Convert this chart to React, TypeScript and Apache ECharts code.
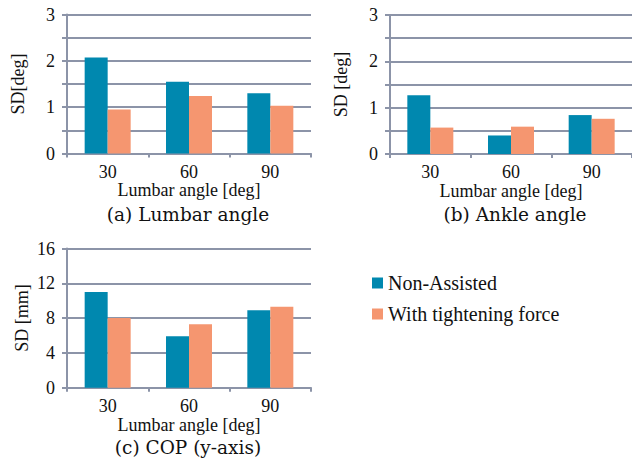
import React, { useEffect, useRef } from "react";
import * as echarts from "echarts";

const categories = ["30", "60", "90"];
const seriesNames = ["Non-Assisted", "With tightening force"];
const lumbarNonAssisted = [2.07, 1.55, 1.3];
const lumbarTightening = [0.95, 1.24, 1.03];
const ankleNonAssisted = [1.27, 0.4, 0.84];
const ankleTightening = [0.57, 0.59, 0.76];
const copNonAssisted = [11.0, 5.9, 8.9];
const copTightening = [8.0, 7.3, 9.3];
const captions = ["(a) Lumbar angle", "(b) Ankle angle", "(c) COP (y-axis)"];
const yNames = ["SD[deg]", "SD [deg]", "SD [mm]"];
const xName = "Lumbar angle [deg]";

const BLUE = "#0088AF";
const ORANGE = "#F59670";
const AXIS = "#8C94A8";
const SERIF = "Liberation Serif";
const CAPTION_FONT = "DejaVu Serif";

export default function App() {
  const ref = useRef<HTMLDivElement>(null);
  useEffect(() => {
    if (!ref.current) return;
    const chart = echarts.init(ref.current, null, { renderer: "svg" });
    const grids = [
      { left: 67, top: 14.5, width: 244, height: 139 },
      { left: 390, top: 15, width: 243, height: 139 },
      { left: 67, top: 248.5, width: 244, height: 139.2 },
    ];
    const yCfg = [
      { max: 3, interval: 0.5, gap: 40 },
      { max: 3, interval: 0.5, gap: 40 },
      { max: 16, interval: 4, gap: 36 },
    ];
    const xAxes = grids.map((_, i) => ({
      type: "category",
      gridIndex: i,
      data: categories,
      name: xName,
      nameLocation: "middle",
      nameGap: 27,
      nameTextStyle: { fontFamily: SERIF, fontSize: 18, color: "#111" },
      axisLine: { lineStyle: { color: AXIS, width: 2 } },
      axisTick: { show: true, length: 4, lineStyle: { color: AXIS, width: 2 } },
      axisLabel: { fontFamily: SERIF, fontSize: 18, color: "#111", margin: 9 },
    }));
    const yAxes = grids.map((_, i) => ({
      type: "value",
      gridIndex: i,
      min: 0,
      max: yCfg[i].max,
      interval: yCfg[i].interval,
      name: yNames[i],
      nameLocation: "middle",
      nameGap: yCfg[i].gap,
      nameTextStyle: { fontFamily: SERIF, fontSize: 18, color: "#111" },
      axisLine: { show: true, lineStyle: { color: AXIS, width: 2 } },
      axisTick: { show: true, length: 5, lineStyle: { color: AXIS, width: 2 } },
      splitLine: { show: true, lineStyle: { color: AXIS, width: 2 } },
      axisLabel: {
        fontFamily: SERIF,
        fontSize: 18,
        color: "#111",
        margin: 12,
        formatter: (v: number) => (Number.isInteger(v) ? String(v) : ""),
      },
    }));
    const data = [
      [lumbarNonAssisted, lumbarTightening],
      [ankleNonAssisted, ankleTightening],
      [copNonAssisted, copTightening],
    ];
    const series: any[] = [];
    data.forEach((pair, i) => {
      pair.forEach((vals, j) => {
        series.push({
          type: "bar",
          name: seriesNames[j],
          xAxisIndex: i,
          yAxisIndex: i,
          data: vals,
          barWidth: 23,
          barGap: "0%",
          itemStyle: { color: j === 0 ? BLUE : ORANGE },
        });
      });
    });
    const capPos = [
      [188, 214],
      [515, 214],
      [188, 447],
    ];
    chart.setOption({
      animation: false,
      backgroundColor: "#fff",
      grid: grids,
      xAxis: xAxes,
      yAxis: yAxes,
      series,
      legend: {
        data: seriesNames,
        orient: "vertical",
        left: 372,
        top: 273,
        padding: 0,
        itemWidth: 11,
        itemHeight: 11,
        itemGap: 11,
        icon: "rect",
        textStyle: { fontFamily: SERIF, fontSize: 20, color: "#111", lineHeight: 20 },
      },
      graphic: captions.map((c, i) => ({
        type: "text",
        x: capPos[i][0],
        y: capPos[i][1],
        style: {
          text: c,
          fontFamily: CAPTION_FONT,
          fontSize: 18.5,
          fill: "#111",
          textAlign: "center",
          textVerticalAlign: "middle",
        },
      })),
    });
    return () => chart.dispose();
  }, []);
  return (
    <div
      ref={ref}
      style={{ position: "fixed", left: 0, top: 0, width: 632, height: 463 }}
    />
  );
}
